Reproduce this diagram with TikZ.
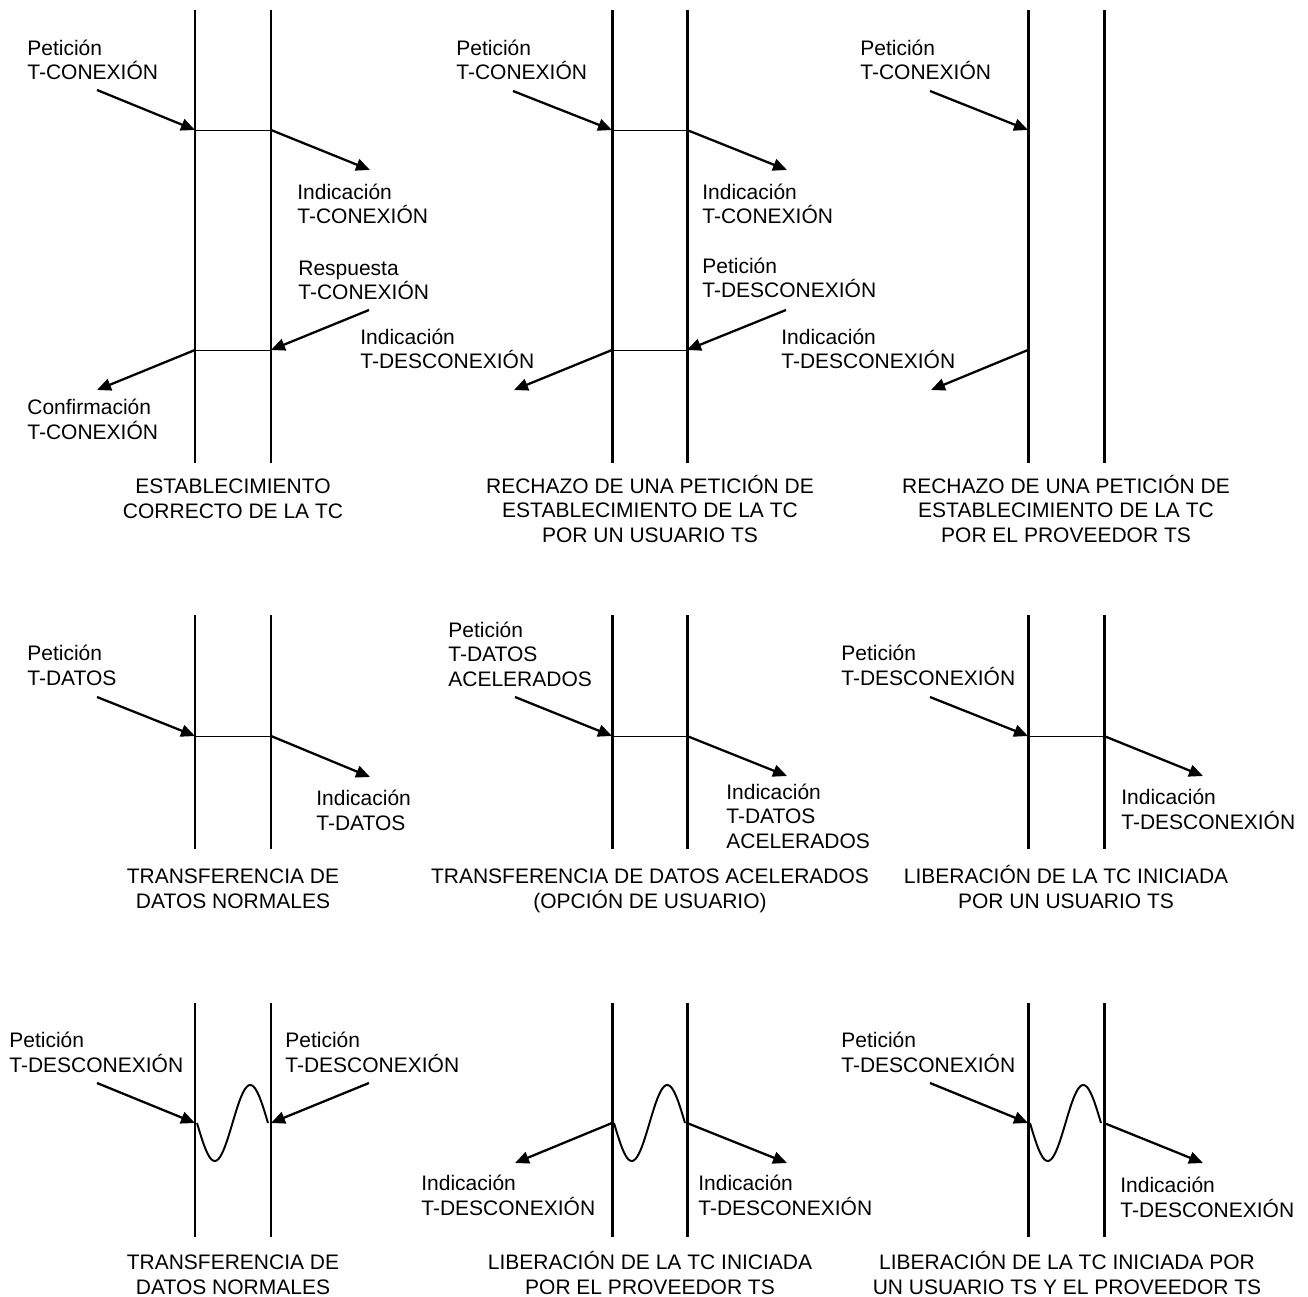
\documentclass[tikz,border=0pt]{standalone}
\usepackage{fontspec}
\setmainfont{Liberation Sans}
\usetikzlibrary{arrows.meta}
\begin{document}
\begin{tikzpicture}[
  x=0.02cm, y=-0.02cm,
  font=\fontsize{11.95}{13.9}\selectfont,
  user/.style={line width=1.7pt},
  msg/.style={-{Triangle[length=0.28cm,width=0.24cm]}, line width=1.3pt},
  link/.style={line width=0.5pt},
  wave/.style={line width=1.1pt},
  prim/.style={anchor=base west, align=left, inner sep=0pt},
  heading/.style={anchor=base, align=center, inner sep=0pt}
]
\useasboundingbox (0,0) rectangle (1308,1297);

\foreach \ya/\yb in {10/463, 615/849, 1003/1237}
  \foreach \xa/\xb in {195/271, 612/687, 1028/1104} {
    \draw[user] (\xa,\ya) -- (\xa,\yb);
    \draw[user] (\xb,\ya) -- (\xb,\yb);
  }

% establecimiento correcto
\node[prim] (a-req) at (27,80) {Petición\\T-CONEXIÓN};
\node[prim] (a-ind) at (297,224) {Indicación\\T-CONEXIÓN};
\node[prim] (a-rsp) at (298,300) {Respuesta\\T-CONEXIÓN};
\node[prim] (a-cnf) at (27,439) {Confirmación\\T-CONEXIÓN};
\node[heading] (a-title) at (233,518) {ESTABLECIMIENTO\\CORRECTO DE LA TC};
\coordinate (a-p1) at (97,90);   \coordinate (a-l1) at (195,130);
\coordinate (a-r1) at (271,130); \coordinate (a-p2) at (370,170);
\coordinate (a-p3) at (369,310); \coordinate (a-r2) at (271,350);
\coordinate (a-l2) at (195,350); \coordinate (a-p4) at (97,390);
\draw[msg] (a-p1) -- (a-l1);
\draw[link] (a-l1) -- (a-r1);
\draw[msg] (a-r1) -- (a-p2);
\draw[msg] (a-p3) -- (a-r2);
\draw[link] (a-r2) -- (a-l2);
\draw[msg] (a-l2) -- (a-p4);

% rechazo por usuario
\node[prim] (b-req) at (456,80) {Petición\\T-CONEXIÓN};
\node[prim] (b-ind) at (702,224) {Indicación\\T-CONEXIÓN};
\node[prim] (b-dreq) at (702,298) {Petición\\T-DESCONEXIÓN};
\node[prim] (b-dind) at (360,369) {Indicación\\T-DESCONEXIÓN};
\node[heading] (b-title) at (650,542) {RECHAZO DE UNA PETICIÓN DE\\ESTABLECIMIENTO DE LA TC\\POR UN USUARIO TS};
\coordinate (b-p1) at (513,91);  \coordinate (b-l1) at (612,130);
\coordinate (b-r1) at (687,130); \coordinate (b-p2) at (787,170);
\coordinate (b-p3) at (786,310); \coordinate (b-r2) at (687,350);
\coordinate (b-l2) at (612,350); \coordinate (b-p4) at (514,390);
\draw[msg] (b-p1) -- (b-l1);
\draw[link] (b-l1) -- (b-r1);
\draw[msg] (b-r1) -- (b-p2);
\draw[msg] (b-p3) -- (b-r2);
\draw[link] (b-r2) -- (b-l2);
\draw[msg] (b-l2) -- (b-p4);

% rechazo por proveedor
\node[prim] (c-req) at (860,80) {Petición\\T-CONEXIÓN};
\node[prim] (c-dind) at (781,369) {Indicación\\T-DESCONEXIÓN};
\node[heading] (c-title) at (1066,542) {RECHAZO DE UNA PETICIÓN DE\\ESTABLECIMIENTO DE LA TC\\POR EL PROVEEDOR TS};
\coordinate (c-p1) at (930,91);   \coordinate (c-l1) at (1028,130);
\coordinate (c-l2) at (1028,350); \coordinate (c-p2) at (931,390);
\draw[msg] (c-p1) -- (c-l1);
\draw[msg] (c-l2) -- (c-p2);

% datos normales
\node[prim] (d-req) at (27,685) {Petición\\T-DATOS};
\node[prim] (d-ind) at (316,830) {Indicación\\T-DATOS};
\node[heading] (d-title) at (233,908) {TRANSFERENCIA DE\\DATOS NORMALES};
\coordinate (d-p1) at (97,697);  \coordinate (d-l1) at (195,736);
\coordinate (d-r1) at (271,736); \coordinate (d-p2) at (370,777);
\draw[msg] (d-p1) -- (d-l1);
\draw[link] (d-l1) -- (d-r1);
\draw[msg] (d-r1) -- (d-p2);

% datos acelerados
\node[prim] (e-req) at (448,686) {Petición\\T-DATOS\\ACELERADOS};
\node[prim] (e-ind) at (726,848) {Indicación\\T-DATOS\\ACELERADOS};
\node[heading] (e-title) at (650,908) {TRANSFERENCIA DE DATOS ACELERADOS\\(OPCIÓN DE USUARIO)};
\coordinate (e-p1) at (515,697); \coordinate (e-l1) at (612,736);
\coordinate (e-r1) at (687,736); \coordinate (e-p2) at (787,776);
\draw[msg] (e-p1) -- (e-l1);
\draw[link] (e-l1) -- (e-r1);
\draw[msg] (e-r1) -- (e-p2);

% liberacion por usuario
\node[prim] (f-req) at (841,685) {Petición\\T-DESCONEXIÓN};
\node[prim] (f-ind) at (1121,829) {Indicación\\T-DESCONEXIÓN};
\node[heading] (f-title) at (1066,908) {LIBERACIÓN DE LA TC INICIADA\\POR UN USUARIO TS};
\coordinate (f-p1) at (930,697);  \coordinate (f-l1) at (1028,736);
\coordinate (f-r1) at (1104,736); \coordinate (f-p2) at (1203,776);
\draw[msg] (f-p1) -- (f-l1);
\draw[link] (f-l1) -- (f-r1);
\draw[msg] (f-r1) -- (f-p2);

% ondas
\foreach \x in {195, 612, 1028}
  \draw[wave] plot[domain=0:360, samples=50, smooth, variable=\t]
    ({\x+2+0.1972*\t}, {1123+38*sin(\t)});

% liberacion simultanea
\node[prim] (g-lreq) at (9,1072) {Petición\\T-DESCONEXIÓN};
\node[prim] (g-rreq) at (285,1072) {Petición\\T-DESCONEXIÓN};
\node[heading] (g-title) at (233,1294) {TRANSFERENCIA DE\\DATOS NORMALES};
\coordinate (g-p1) at (97,1083);  \coordinate (g-l1) at (195,1123);
\coordinate (g-p2) at (369,1083); \coordinate (g-r1) at (271,1123);
\draw[msg] (g-p1) -- (g-l1);
\draw[msg] (g-p2) -- (g-r1);

% liberacion por proveedor
\node[prim] (h-lind) at (421,1215) {Indicación\\T-DESCONEXIÓN};
\node[prim] (h-rind) at (698,1215) {Indicación\\T-DESCONEXIÓN};
\node[heading] (h-title) at (650,1294) {LIBERACIÓN DE LA TC INICIADA\\POR EL PROVEEDOR TS};
\coordinate (h-l1) at (612,1123); \coordinate (h-p1) at (515,1163);
\coordinate (h-r1) at (687,1123); \coordinate (h-p2) at (787,1163);
\draw[msg] (h-l1) -- (h-p1);
\draw[msg] (h-r1) -- (h-p2);

% liberacion por usuario y proveedor
\node[prim] (i-req) at (841,1072) {Petición\\T-DESCONEXIÓN};
\node[prim] (i-ind) at (1120,1217) {Indicación\\T-DESCONEXIÓN};
\node[heading] (i-title) at (1067,1294) {LIBERACIÓN DE LA TC INICIADA POR\\UN USUARIO TS Y EL PROVEEDOR TS};
\coordinate (i-p1) at (930,1083);  \coordinate (i-l1) at (1028,1123);
\coordinate (i-r1) at (1104,1123); \coordinate (i-p2) at (1203,1163);
\draw[msg] (i-p1) -- (i-l1);
\draw[msg] (i-r1) -- (i-p2);
\end{tikzpicture}
\end{document}
